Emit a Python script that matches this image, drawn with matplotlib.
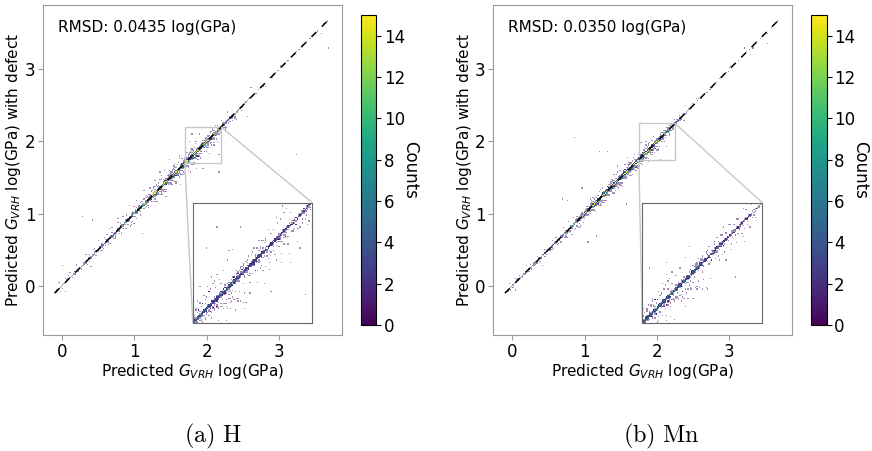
import numpy as np
import matplotlib
matplotlib.use("Agg")
import matplotlib.pyplot as plt
from mpl_toolkits.axes_grid1.inset_locator import mark_inset

# ---------------- data ----------------
# number of points along the diagonal, per 0.1-wide segment starting at -0.1
SEG_START = -0.1
SEG_WIDTH = 0.1
diag_density_a = [15, 12, 10, 12, 15, 22, 35, 45, 55, 60,
                  70, 85, 110, 160, 220, 270, 280, 280, 280, 270,
                  220, 160, 100, 50, 25, 12, 6, 4, 3, 2,
                  3, 2, 2, 3, 2, 2, 2, 2]
diag_density_b = [15, 12, 10, 12, 15, 20, 32, 45, 60, 80,
                  110, 180, 240, 270, 280, 280, 280, 280, 280, 270,
                  230, 160, 90, 45, 20, 9, 4, 3, 2, 2,
                  3, 2, 2, 3, 2, 2, 2, 2]
# spread of points across the diagonal: shape and scale patterns (read as band profile)
spread_shape = [0.3, -0.5, 0.8, -0.2, 1.0, -0.9, 0.1, -0.7, 0.6, -0.4, -0.9, -1.0,
                0.5, -0.1, 0.7, -0.6, 0.2, -0.8, 0.4, -0.3, -1.0, -0.5, 0.0]
spread_scale = [0.04, 0.07, 0.02, 0.6, 0.05, 0.03, 0.15, 0.04, 1.0, 0.06, 0.08, 0.3,
                0.04, 0.02, 0.07, 0.45, 0.03, 0.12, 0.02, 0.05, 0.8, 0.04, 0.08, 0.2,
                0.05, 0.02, 0.06, 0.35, 0.04]
band_width_a = 0.14
band_width_b = 0.12

# scattered points off the diagonal: x and y - x
cloud_a_x = [0.02, 0.05, 0.12, 0.2, 0.24, 0.29, 0.33, 0.38, 0.42, 0.46, 0.5, 0.55, 0.58, 0.62, 0.66, 0.7, 0.74, 0.78,
             0.82, 0.85, 0.88, 0.9, 0.93, 0.96, 0.98, 1.0, 1.02, 1.04, 1.06, 1.08, 1.1, 1.12, 1.13, 1.15, 1.17, 1.19,
             1.2, 1.22, 1.24, 1.26, 1.28, 1.29,
             1.31, 1.32, 1.34, 1.35, 1.37, 1.38, 1.4, 1.41, 1.43, 1.44, 1.46, 1.47, 1.49, 1.5, 1.52, 1.53, 1.55, 1.56,
             1.58, 1.59, 1.61, 1.62, 1.64, 1.65, 1.67, 1.68, 1.69,
             1.70, 1.71, 1.72, 1.72, 1.73, 1.74, 1.75, 1.75, 1.76, 1.77, 1.78, 1.78, 1.79, 1.8, 1.81, 1.82, 1.83, 1.84,
             1.85, 1.85, 1.86, 1.87, 1.88, 1.89, 1.9, 1.91, 1.92, 1.93, 1.94, 1.95, 1.96, 1.97, 1.98, 1.99, 2.0, 2.01,
             2.02, 2.03, 2.04, 2.05, 2.06, 2.07, 2.08, 2.09, 2.1, 2.11, 2.12, 2.13, 2.14, 2.15, 2.16, 2.17, 2.18, 2.19,
             2.18, 1.76, 1.8, 1.9,
             2.21, 2.23, 2.25, 2.27, 2.3, 2.33, 2.36, 2.4, 2.45, 2.57, 2.75, 3.24, 3.68, 2.9, 3.1]
cloud_a_d = [0.27, 0.04, 0.06, 0.08, -0.03, 0.68, 0.1, 0.05, 0.5, 0.07, 0.12, 0.04, -0.05, 0.09, 0.14, 0.05, -0.06, 0.1,
             0.04, 0.12, -0.04, 0.08, 0.18, -0.08, 0.05, 0.1, -0.05, 0.15, 0.03, -0.1, 0.07, -0.39, 0.2, -0.06, 0.09, 0.04,
             -0.12, 0.13, -0.03, 0.06, 0.18, -0.08,
             0.1, -0.15, 0.05, 0.22, -0.05, 0.12, -0.1, 0.07, 0.16, -0.2, 0.04, -0.07, 0.11, 0.25, -0.12, 0.06, -0.04, 0.14,
             -0.16, 0.09, -0.08, 0.18, 0.03, -0.25, 0.1, -0.06, -0.13,
             0.05, -0.03, 0.02, -0.08, 0.12, -0.04, -0.15, 0.03, -0.02, 0.06, -0.06, -0.2, 0.02, -0.03, -0.1, 0.04, -0.05, -0.13,
             0.15, -0.03, -0.07, -0.25, -0.02, -0.09, 0.03, -0.05, -0.16, -0.03, -0.07, -0.32, -0.04, -0.1, 0.02, -0.05, -0.14, -0.03,
             -0.07, -0.2, -0.04, -0.09, -0.02, -0.12, -0.05, -0.03, -0.07, -0.16, -0.04, -0.02, -0.1, -0.05, -0.03, -0.35, -0.07, -0.02,
             -0.6, 0.25, 0.3, 0.2,
             -0.04, 0.03, -0.08, -0.02, -0.05, 0.02, -0.03, -0.06, -0.02, -0.23, 0.02, -1.43, -0.39, -0.02, 0.01]

cloud_b_x = [0.05, 0.15, 0.25, 0.35, 0.45, 0.55, 0.62, 0.7, 0.755, 0.8, 0.85, 0.87, 0.9, 0.96, 1.0, 1.05, 1.08, 1.12, 1.17,
             1.2, 1.22, 1.25, 1.28, 1.3, 1.33, 1.35, 1.38, 1.4, 1.42, 1.44, 1.46, 1.48, 1.5, 1.52, 1.54, 1.56, 1.58, 1.58,
             1.6, 1.62, 1.64, 1.66, 1.68, 1.7, 1.72, 1.74,
             1.75, 1.76, 1.77, 1.78, 1.79, 1.8, 1.8, 1.81, 1.82, 1.83, 1.84, 1.85, 1.86, 1.87, 1.88, 1.89, 1.9, 1.91, 1.92,
             1.93, 1.94, 1.95, 1.96, 1.97, 1.98, 2.0, 2.02, 2.04, 2.05, 2.07, 2.09, 2.1, 2.12, 2.14, 2.15, 2.17, 2.19, 2.2,
             2.22, 2.24, 1.78, 1.85, 2.05,
             2.27, 2.3, 2.35, 2.4, 2.5, 2.7, 3.0, 3.54, 1.33]
cloud_b_d = [0.04, -0.03, 0.06, 0.05, -0.04, 0.08, 0.03, 0.5, 0.43, -0.05, 0.1, 1.19, 0.06, 0.4, -0.07, -0.45, 0.12, 0.05, -0.47,
             0.67, -0.08, 0.1, 0.04, -0.12, 0.53, 0.07, -0.05, 0.15, -0.1, 0.06, 0.2, -0.06, 0.09, -0.15, 0.05, 0.12, -0.45, -0.08,
             0.18, -0.04, 0.08, -0.12, 0.1, 0.05, -0.07, 0.03,
             0.06, -0.04, 0.03, -0.08, 0.05, -0.03, -0.12, 0.02, -0.06, 0.04, -0.02, -0.09, 0.03, -0.05, -0.15, -0.03, 0.02,
             -0.07, -0.04, -0.11, -0.02, -0.06, 0.03, -0.03, -0.08, -0.04, -0.13, -0.03, 0.04, -0.06, -0.02, -0.09, -0.04,
             -0.2, -0.03, -0.06, -0.02, -0.05, -0.03, 0.02, 0.2, 0.15, -0.3,
             -0.03, 0.02, -0.04, -0.02, 0.03, -0.02, 0.02, -0.18, 0.05]

diag_line = [-0.1, 3.7]
inset_a = [1.7, 2.2]
inset_b = [1.75, 2.25]
rmsd_a = "RMSD: 0.0435 log(GPa)"
rmsd_b = "RMSD: 0.0350 log(GPa)"
captions = [r"$\mathrm{(a)\ H}$", r"$\mathrm{(b)\ Mn}$"]
xticks = [0, 1, 2, 3]
cbar_ticks = [0, 2, 4, 6, 8, 10, 12, 14]


def build(density, width, cx, cd):
    xs = []
    for k, n in enumerate(density):
        x0 = SEG_START + k * SEG_WIDTH
        xs.append(x0 + (np.arange(n) + 0.5) * SEG_WIDTH / n)
    x = np.concatenate(xs)
    i = np.arange(len(x))
    sh = np.asarray(spread_shape)[i % len(spread_shape)]
    sc = np.asarray(spread_scale)[i % len(spread_scale)]
    y = x + width * sh * sc
    cx = np.asarray(cx)
    cy = cx + np.asarray(cd)
    return np.concatenate([x, cx]), np.concatenate([y, cy])


fig = plt.figure(figsize=(8.72, 4.51), dpi=100)
W, H = 872.0, 451.0

def fr(x0, y0, x1, y1):
    return [x0 / W, 1 - y1 / H, (x1 - x0) / W, (y1 - y0) / H]

panels = [
    dict(ax=fr(43, 5, 342, 335), cax=fr(361, 15, 376, 325), ins=fr(192.7, 202.7, 312.3, 322.7),
         dens=diag_density_a, bw=band_width_a, cx=cloud_a_x, cd=cloud_a_d, rng=inset_a, txt=rmsd_a,
         cap=captions[0], capx=213),
    dict(ax=fr(493.3, 5, 792.3, 335), cax=fr(811, 15, 826.5, 325), ins=fr(642.3, 202.7, 762.3, 322.7),
         dens=diag_density_b, bw=band_width_b, cx=cloud_b_x, cd=cloud_b_d, rng=inset_b, txt=rmsd_b,
         cap=captions[1], capx=661),
]

edges = np.arange(-0.2, 3.86, 0.017)
spine_col = "#9a9a9a"
hkw = dict(cmap="viridis", vmin=0, vmax=15)

for p in panels:
    x, y = build(p["dens"], p["bw"], p["cx"], p["cd"])
    ax = fig.add_axes(p["ax"])
    # sparse cells look faint in the reference, dense cells solid
    ax.hist2d(x, y, bins=[edges, edges], cmin=1, alpha=0.5, **hkw)
    h = ax.hist2d(x, y, bins=[edges, edges], cmin=3, **hkw)
    ax.plot(diag_line, diag_line, color="black", lw=1.1, dashes=(4.5, 5))
    ax.set_xlim(-0.26, 3.87)
    ax.set_ylim(-0.68, 3.89)
    ax.set_xticks(xticks)
    ax.set_yticks(xticks)
    ax.tick_params(labelsize=12, color=spine_col, pad=2)
    for s in ax.spines.values():
        s.set_color(spine_col)
    ax.set_xlabel("Predicted $G_{VRH}$ log(GPa)", fontsize=11, labelpad=1)
    ax.set_ylabel("Predicted $G_{VRH}$ log(GPa) with defect", fontsize=11, labelpad=1)
    ax.text(0.05, 0.932, p["txt"], transform=ax.transAxes, fontsize=11, va="center", ha="left")

    cax = fig.add_axes(p["cax"])
    cb = fig.colorbar(h[3], cax=cax)
    cb.set_ticks(cbar_ticks)
    cb.ax.tick_params(labelsize=12, pad=2)
    cb.set_label("Counts", rotation=270, fontsize=12, labelpad=10)

    lo, hi = p["rng"]
    axins = fig.add_axes(p["ins"])
    ebin = np.arange(lo, hi + 1e-9, 0.0055)
    axins.hist2d(x, y, bins=[ebin, ebin], cmin=1, alpha=0.5, **hkw)
    axins.hist2d(x, y, bins=[ebin, ebin], cmin=2, **hkw)
    axins.set_xlim(lo, hi)
    axins.set_ylim(lo, hi)
    axins.set_xticks([])
    axins.set_yticks([])
    for s in axins.spines.values():
        s.set_color("#666666")
    mark_inset(ax, axins, loc1=1, loc2=3, fc="none", ec="#c8c8c8", lw=1)

    fig.text(p["capx"] / W, 1 - 436 / H, p["cap"], math_fontfamily="cm", fontsize=17.5,
             ha="center", va="center")

fig.savefig("out.png", dpi=100)
